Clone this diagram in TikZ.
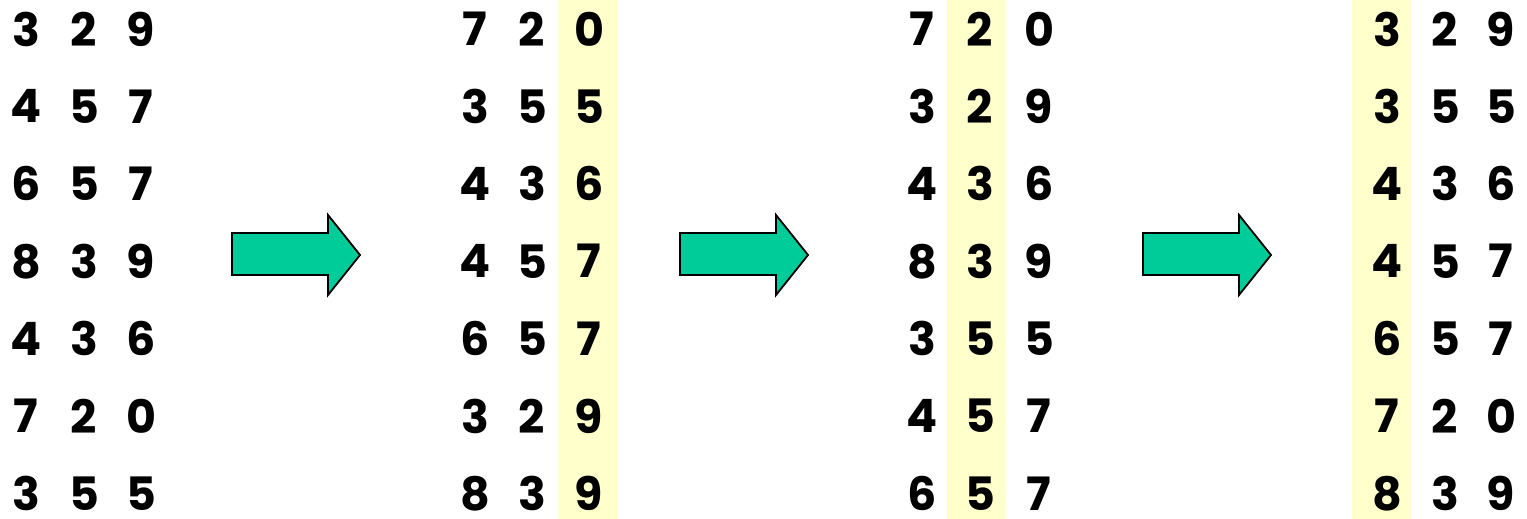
\documentclass[tikz,border=0pt]{standalone}
\usepackage{fontspec}
\setmainfont{Poppins}[BoldFont={* Bold}]
\definecolor{hl}{HTML}{FFFFCC}
\definecolor{arrowgreen}{HTML}{00CC99}
\begin{document}
\begin{tikzpicture}[x=1pt,y=-1pt,
  digit/.style={inner sep=0pt, text depth=0pt, font=\fontsize{46}{46}\selectfont\bfseries, anchor=center},
  band/.style={fill=hl, draw=none},
  bigarrow/.style={fill=arrowgreen, draw=black, line width=1.8pt, line join=miter}]
\useasboundingbox (0,0) rectangle (1527,519);
% highlight bands
\fill[band] (558,0) rectangle (618,519);
\fill[band] (947,0) rectangle (1006,519);
\fill[band] (1352,0) rectangle (1411,519);
% digits
\foreach \g/\xa/\xb/\xc/\list in {
  1/26/84/141/{3/2/9,4/5/7,6/5/7,8/3/9,4/3/6,7/2/0,3/5/5},
  2/475/532/589/{7/2/0,3/5/5,4/3/6,4/5/7,6/5/7,3/2/9,8/3/9},
  3/922/980/1039/{7/2/0,3/2/9,4/3/6,8/3/9,3/5/5,4/5/7,6/5/7},
  4/1387/1445/1501/{3/2/9,3/5/5,4/3/6,4/5/7,6/5/7,7/2/0,8/3/9}}{
  \foreach \a/\b/\c [count=\r] in \list {
    \node[digit] (g\g r\r c1) at (\xa,{29+77.4*(\r-1)}) {\a};
    \node[digit] (g\g r\r c2) at (\xb,{29+77.4*(\r-1)}) {\b};
    \node[digit] (g\g r\r c3) at (\xc,{29+77.4*(\r-1)}) {\c};
  }
}
% arrows
\foreach \x in {232,680,1143}{
  \draw[bigarrow] (\x,233) -- (\x+96,233) -- (\x+96,215) -- (\x+128,255)
     -- (\x+96,295) -- (\x+96,275) -- (\x,275) -- cycle;
}
\end{tikzpicture}
\end{document}
